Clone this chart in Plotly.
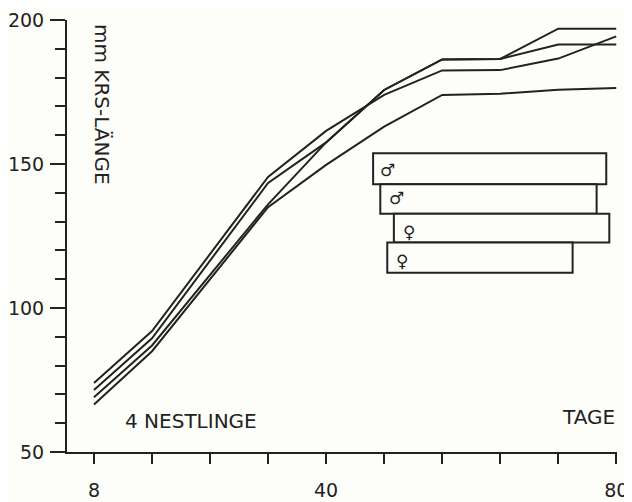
import plotly.graph_objects as go

# Data
days = [8, 16, 32, 40, 48, 56, 64, 72, 80]
bird1 = [74, 92, 145.5, 161.5, 174, 182.5, 182.6, 186.6, 194.3]
bird2 = [71.5, 89.5, 143.4, 157.5, 175.7, 186.3, 186.5, 191.5, 191.5]
bird3 = [69, 87, 136, 157.5, 175.7, 186.3, 186.5, 197, 197]
bird4 = [66.5, 85, 135, 149.7, 163, 174, 174.4, 175.8, 176.4]
series = [bird1, bird2, bird3, bird4]

x_ticks = [8, 16, 24, 32, 40, 48, 56, 64, 72, 80]
x_labels = ["8", "", "", "", "40", "", "", "", "", "80"]
y_ticks = [50, 100, 150, 200]
y_labels = ["50", "100", "150", "200"]

INK = "#222222"
BG = "#fdfdf9"
FONT = "DejaVu Sans"

fig = go.Figure()
for s in series:
    fig.add_trace(go.Scatter(x=days, y=s, mode="lines",
                             line=dict(color=INK, width=2), showlegend=False,
                             hoverinfo="skip"))

# legend-like boxes
boxes = [
    (46.48, 78.62, 142.95, 153.7, "♂", 48.5, 147.9),
    (47.47, 77.29, 132.7, 142.95, "♂", 49.7, 138.2),
    (49.34, 79.04, 122.74, 132.7, "♀", 51.4, 126.4),
    (48.43, 73.98, 112.26, 122.74, "♀", 50.5, 116.3),
]
for x0, x1, y0, y1, sym, sx, sy in boxes:
    fig.add_shape(type="rect", xref="x", yref="y", x0=x0, x1=x1, y0=y0, y1=y1,
                  line=dict(color=INK, width=2), fillcolor=BG, layer="above")
    fig.add_annotation(x=sx, y=sy, xref="x", yref="y", text=sym, showarrow=False,
                       font=dict(family=FONT, size=17, color=INK))

fig.add_annotation(x=9.1, y=170.5, xref="x", yref="y", text="mm KRS-LÄNGE",
                   textangle=90, showarrow=False,
                   font=dict(family=FONT, size=20, color=INK))
fig.add_annotation(x=21.35, y=60.8, xref="x", yref="y", text="4 NESTLINGE",
                   showarrow=False, font=dict(family=FONT, size=20, color=INK))
fig.add_annotation(x=1.0, y=62.3, xref="paper", yref="y", text="TAGE", xanchor="right",
                   showarrow=False, font=dict(family=FONT, size=20, color=INK))

# page body has an 8px default margin: figure is sized/margined to compensate
fig.update_layout(
    width=624, height=494,
    margin=dict(l=59, r=15, t=12, b=50),
    paper_bgcolor=BG, plot_bgcolor=BG,
    font=dict(family=FONT, size=19, color=INK),
    xaxis=dict(range=[4.28, 80.1], showgrid=False, zeroline=False, automargin=False,
               showline=True, linecolor=INK, linewidth=2,
               tickmode="array", tickvals=x_ticks, ticktext=x_labels,
               ticks="outside", ticklen=10, tickwidth=2, tickcolor=INK,
               ticklabelstandoff=10),
    yaxis=dict(range=[50, 200], showgrid=False, zeroline=False, automargin=False,
               showline=True, linecolor=INK, linewidth=2,
               tickmode="array", tickvals=y_ticks, ticktext=y_labels,
               ticks="outside", ticklen=15, tickwidth=2, tickcolor=INK,
               ticklabelstandoff=2,
               minor=dict(dtick=10, tick0=50, ticks="outside", ticklen=10,
                          tickwidth=2, tickcolor=INK, showgrid=False)),
)

fig.write_html("out.html")
